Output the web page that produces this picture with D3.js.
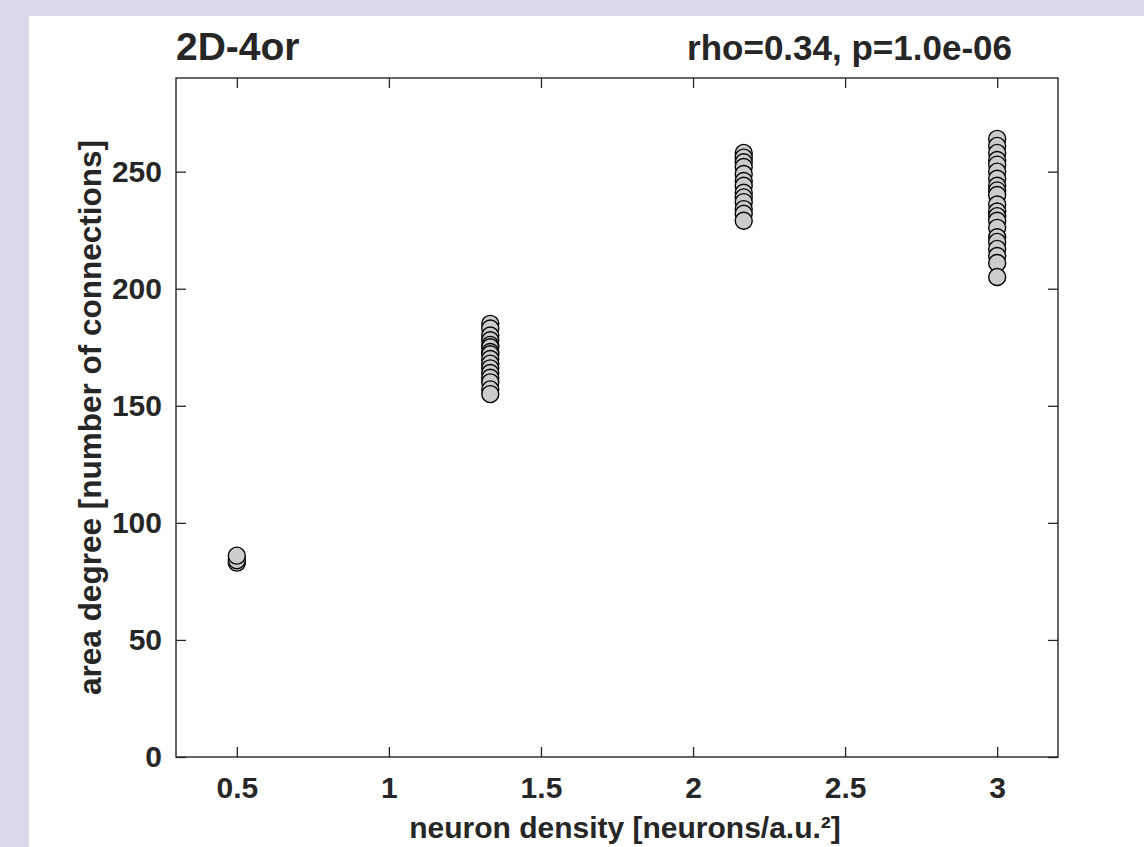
<!DOCTYPE html>
<html><head><meta charset="utf-8">
<script src="https://cdn.jsdelivr.net/npm/d3@7"></script>
<style>
html,body{margin:0;padding:0;background:#d9d9ea;}
svg{display:block;}
text{font-family:"Liberation Sans",Arial,Helvetica,sans-serif;font-weight:bold;fill:#262626;}
</style></head>
<body>
<svg id="c" width="1144" height="847"></svg>
<script>
const densities = [0.5, 4/3, 13/6, 3];
const degrees05 = [83, 84, 86];
const degrees133 = [185, 183, 180, 178, 176, 175, 173, 172, 170, 168, 166, 164, 162, 160, 157, 155];
const degrees217 = [258, 256, 254, 252, 249, 246, 244, 241, 239, 237, 234, 232, 229];
const degrees3 = [264, 261, 258, 255, 253, 250, 247, 244, 242, 240, 236, 233, 231, 229, 226, 222, 220, 217, 214, 211, 205];
const xTicks = [0.5, 1, 1.5, 2, 2.5, 3];
const yTicks = [0, 50, 100, 150, 200, 250];
const titleText = "2D-4or";
const statText = "rho=0.34, p=1.0e-06";
const xLabel = "neuron density [neurons/a.u.\u00B2]";
const yLabel = "area degree [number of connections]";

const groups = [degrees05, degrees133, degrees217, degrees3];
const points = [];
groups.forEach((g, i) => g.forEach(v => points.push({x: densities[i], y: v})));

const svg = d3.select("#c");
svg.append("rect").attr("x", 29).attr("y", 16).attr("width", 1144 - 29).attr("height", 847 - 16).attr("fill", "#ffffff");

const L = 176, R = 1058, T = 78, B = 757;
const x = d3.scaleLinear().domain([0.3, 3.2]).range([L, R]);
const y = d3.scaleLinear().domain([0, 290]).range([B, T]);
const axColor = "#262626";

// points
svg.append("g").selectAll("circle").data(points).join("circle")
  .attr("cx", d => x(d.x)).attr("cy", d => y(d.y)).attr("r", 8.5)
  .attr("fill", "#cccccc").attr("stroke", "#000").attr("stroke-width", 1.4);

const tl = 10;
const gx = svg.append("g").attr("transform", `translate(0,${B})`)
  .call(d3.axisBottom(x).tickValues(xTicks).tickSize(-tl).tickPadding(20).tickFormat(d3.format("")));
const gxt = svg.append("g").attr("transform", `translate(0,${T})`)
  .call(d3.axisTop(x).tickValues(xTicks).tickSize(-tl).tickFormat(""));
const gy = svg.append("g").attr("transform", `translate(${L},0)`)
  .call(d3.axisLeft(y).tickValues(yTicks).tickSize(-tl).tickPadding(14).tickFormat(d3.format("")));
const gyr = svg.append("g").attr("transform", `translate(${R},0)`)
  .call(d3.axisRight(y).tickValues(yTicks).tickSize(-tl).tickFormat(""));
[gx, gxt, gy, gyr].forEach(g => {
  g.select(".domain").remove();
  g.selectAll(".tick line").attr("stroke", axColor).attr("stroke-width", 1.3);
  g.selectAll("text").style("font-size", "30px").attr("fill", axColor)
    .style("font-family", '"Liberation Sans",Arial,sans-serif').style("font-weight", "bold");
});
gx.selectAll("text").attr("dy", "0.71em");
svg.append("rect").attr("x", L).attr("y", T).attr("width", R - L).attr("height", B - T)
  .attr("fill", "none").attr("stroke", axColor).attr("stroke-width", 1.4);

svg.append("text").attr("x", L).attr("y", 60).style("font-size", "39px").attr("fill", "#000").text(titleText);
svg.append("text").attr("x", 1012).attr("y", 60).attr("text-anchor", "end").style("font-size", "35px").attr("fill", "#000").text(statText);
svg.append("text").attr("x", (L + R) / 2 + 8).attr("y", 838).attr("text-anchor", "middle").style("font-size", "30px").text(xLabel);
svg.append("text").attr("transform", `translate(101,${(T + B) / 2}) rotate(-90)`).attr("text-anchor", "middle").style("font-size", "31.5px").text(yLabel);
</script>
</body></html>
